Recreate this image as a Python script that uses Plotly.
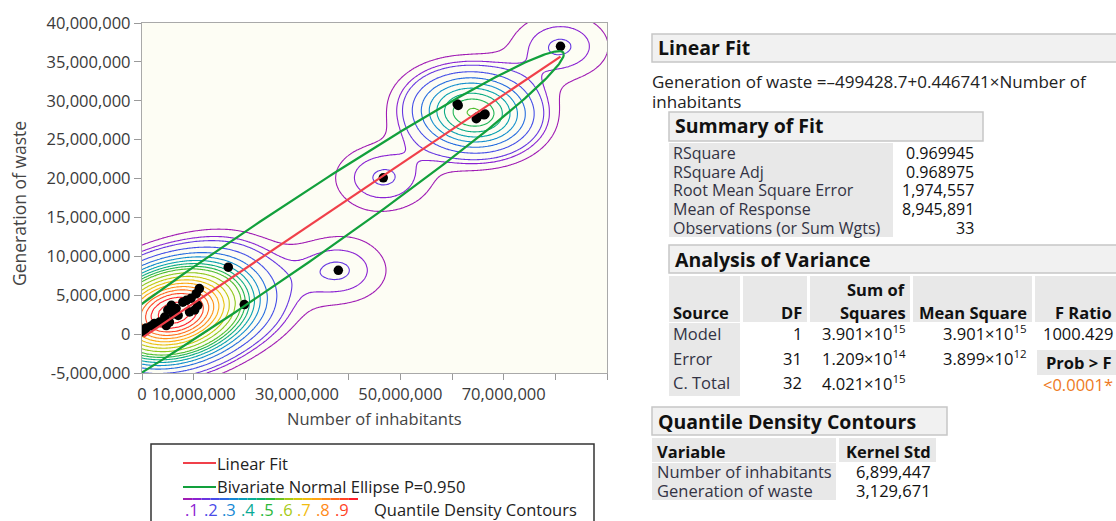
import numpy as np
import plotly.graph_objects as go

# ---------------- data ----------------
inhabitants = [81.0e6, 61.0e6, 64.7e6, 66.4e6, 46.7e6, 38.0e6, 16.7e6, 19.8e6, 61.2e6, 64.9e6, 66.2e6,
               11.1e6, 10.5e6, 9.5e6, 8.6e6, 7.9e6, 10.8e6, 10.2e6, 9.2e6, 7.0e6, 5.7e6,
               5.0e6, 6.0e6, 4.4e6, 5.3e6, 4.7e6, 3.4e6, 2.4e6, 1.8e6, 0.8e6, 0.3e6,
               0.5e6, 6.6e6]
waste = [37.0e6, 29.6e6, 27.7e6, 28.3e6, 20.1e6, 8.2e6, 8.6e6, 3.8e6, 29.4e6, 27.9e6, 28.2e6,
         5.85e6, 5.2e6, 4.6e6, 4.35e6, 4.1e6, 3.7e6, 3.1e6, 2.85e6, 2.4e6, 3.7e6,
         3.1e6, 2.6e6, 2.2e6, 1.55e6, 1.1e6, 1.55e6, 1.35e6, 1.05e6, 0.8e6, 0.3e6,
         0.5e6, 3.3e6]

y_tick_vals = [-5e6, 0, 5e6, 10e6, 15e6, 20e6, 25e6, 30e6, 35e6, 40e6]
y_tick_text = ["-5,000,000", "0", "5,000,000", "10,000,000", "15,000,000", "20,000,000",
               "25,000,000", "30,000,000", "35,000,000", "40,000,000"]
x_tick_vals = [0, 10e6, 20e6, 30e6, 40e6, 50e6, 60e6, 70e6, 80e6, 90e6]
x_tick_text = ["0", "10,000,000", "", "30,000,000", "", "50,000,000", "", "70,000,000", "", ""]

# report values
fit_intercept = -499428.7
fit_slope = 0.446741
rsquare = 0.969945
mean_response = 8945891
n_obs = 33
ss_model = 3.901e15
ss_total = 4.021e15
ellipse_p = 0.950
kernel_std = [6899447, 3129671]
quantile_levels = [0.05, 0.10, 0.15, 0.20, 0.25, 0.30, 0.35, 0.40, 0.45, 0.50,
                   0.55, 0.60, 0.65, 0.70, 0.75, 0.80, 0.85, 0.90, 0.95]

equation_text = ["Generation of waste =–499428.7+0.446741×Number of", "inhabitants"]
summary_labels = ["RSquare", "RSquare Adj", "Root Mean Square Error", "Mean of Response",
                  "Observations (or Sum Wgts)"]
summary_values = ["0.969945", "0.968975", "1,974,557", "8,945,891", "33"]
anova_sources = ["Model", "Error", "C. Total"]
anova_df = ["1", "31", "32"]
anova_ss = ["3.901×10<sup>15</sup>", "1.209×10<sup>14</sup>", "4.021×10<sup>15</sup>"]
anova_ms = ["3.901×10<sup>15</sup>", "3.899×10<sup>12</sup>", ""]
f_ratio = "1000.429"
prob_f = "&lt;0.0001*"
kernel_vars = ["Number of inhabitants", "Generation of waste"]
kernel_std_text = ["6,899,447", "3,129,671"]
legend_numbers = [".1", ".2", ".3", ".4", ".5", ".6", ".7", ".8", ".9"]

# ---------------- styles ----------------
FONT = "Open Sans"
FS = 16.5
# one colour per contour level .05 ... .95
level_colors = ["#a01cb4", "#8c22d2", "#6a34e0", "#4a4ae8", "#2c66e2", "#1688d4",
                "#0a9ebc", "#08aa96", "#12b06a", "#2cb83a", "#6cc224", "#a6ca16",
                "#d2c80c", "#f2bc10", "#ffa614", "#ff8a18", "#ff6a1e", "#ff4426", "#ff1e2a"]
legend_num_colors = [level_colors[i] for i in (1, 3, 5, 7, 9, 11, 13, 15, 17)]
colorscale = [[i / (len(level_colors) - 1), c] for i, c in enumerate(level_colors)]

X = np.array(inhabitants)
Y = np.array(waste)


def kde(gx, gy):
    kx = np.exp(-0.5 * ((gx[None, :] - X[:, None]) / kernel_std[0]) ** 2)
    ky = np.exp(-0.5 * ((gy[None, :] - Y[:, None]) / kernel_std[1]) ** 2)
    return ky.T @ kx


# quantile of density by probability mass ("points generated from the estimate")
bx = np.linspace(-45e6, 135e6, 361)
by = np.linspace(-25e6, 65e6, 361)
d_big = np.sort(kde(bx, by).ravel())
cum = np.cumsum(d_big)
cum /= cum[-1]
gx = np.linspace(-3e6, 93e6, 321)
gy = np.linspace(-8e6, 43e6, 281)
Q = np.interp(kde(gx, gy), d_big, cum)

fig = go.Figure()
fig.add_trace(go.Contour(
    x=gx, y=gy, z=np.round(Q, 4), zmin=0.05, zmax=0.95, zauto=False,
    autocontour=False,
    contours=dict(start=quantile_levels[0], end=quantile_levels[-1] + 1e-6,
                  size=0.05, coloring="lines"),
    colorscale=colorscale, line=dict(width=1.1, smoothing=1),
    showscale=False, hoverinfo="skip"))

fig.add_trace(go.Scatter(x=inhabitants, y=waste, mode="markers",
                         marker=dict(color="black", size=9.5), hoverinfo="skip"))

# bivariate normal ellipse from the reported statistics
mean_x = (mean_response - fit_intercept) / fit_slope
sx = np.sqrt(ss_model / fit_slope ** 2 / (n_obs - 1))
sy = np.sqrt(ss_total / (n_obs - 1))
r = np.sqrt(rsquare)
cov = np.array([[sx * sx, r * sx * sy], [r * sx * sy, sy * sy]])
Lc = np.linalg.cholesky(cov)
c = np.sqrt(-2 * np.log(1 - ellipse_p))
t = np.linspace(0, 2 * np.pi, 400)
pts = c * (Lc @ np.vstack([np.cos(t), np.sin(t)]))
fig.add_trace(go.Scatter(x=mean_x + pts[0], y=mean_response + pts[1], mode="lines",
                         line=dict(color="#12a03c", width=2.2), hoverinfo="skip"))

# linear fit
fx = np.array([min(inhabitants), max(inhabitants)])
fig.add_trace(go.Scatter(x=fx, y=fit_intercept + fit_slope * fx, mode="lines",
                         line=dict(color="#f0404a", width=2.2), hoverinfo="skip"))

# ---------------- layout helpers ----------------
L, R, T, B = 142, 607, 23, 373


def px(x):
    return (x - L) / (R - L)


def py(y):
    return (B - y) / (B - T)


ann = []
shp = []


def text(x, y, s, size=FS, color="#222", xanchor="left", bold=False, angle=0):
    ann.append(dict(x=px(x), y=py(y), xref="paper", yref="paper", showarrow=False,
                    text=("<b>%s</b>" % s) if bold else s, xanchor=xanchor,
                    yanchor="middle", textangle=angle,
                    font=dict(family=FONT, size=size, color=color)))


def rect(x0, y0, x1, y1, fill, line=None, lw=1):
    shp.append(dict(type="rect", xref="paper", yref="paper", x0=px(x0), x1=px(x1),
                    y0=py(y1), y1=py(y0), fillcolor=fill, layer="above",
                    line=dict(color=line if line else fill, width=lw if line else 0)))


def seg(x0, y0, x1, y1, color, w=2):
    shp.append(dict(type="line", xref="paper", yref="paper", x0=px(x0), x1=px(x1),
                    y0=py(y0), y1=py(y1), line=dict(color=color, width=w)))


# axis titles
text(19, 204, "Generation of waste", size=17.5, color="#444", xanchor="center", angle=-90)
text(374, 418, "Number of inhabitants", size=16.5, color="#444", xanchor="center")

HDR_FILL, HDR_LINE, CELL = "#f1f1f1", "#c6c6c6", "#e8e8e8"
HB = 19.5   # header bold size
CB = 16.5   # column header bold size
LAB = "#333344"
# Linear Fit
rect(652, 34, 1125, 62, HDR_FILL, HDR_LINE, 1.5)
text(656, 48, "Linear Fit", size=HB, color="#111", bold=True)
text(650, 81, equation_text[0], size=17, color="#222")
text(650, 101, equation_text[1], size=17, color="#222")
# Summary of Fit
rect(669, 112, 983, 141, HDR_FILL, HDR_LINE, 1.5)
text(673, 126, "Summary of Fit", size=HB, color="#111", bold=True)
rect(669, 143, 893, 237, CELL)
for i, (lab, val) in enumerate(zip(summary_labels, summary_values)):
    yy = 153 + i * 18.7
    text(671, yy, lab, size=16, color=LAB)
    text(976, yy, val, size=16, color="#111", xanchor="right")
# Analysis of Variance
rect(669, 245, 1125, 273, HDR_FILL, HDR_LINE, 1.5)
text(673, 259, "Analysis of Variance", size=HB, color="#111", bold=True)
for x0, x1 in [(669, 740), (743, 807), (810, 910), (913, 1032), (1035, 1120)]:
    rect(x0, 276, x1, 322, CELL)
rect(669, 323, 740, 396, CELL)
text(671, 312, "Source", size=CB, color="#111", bold=True)
text(804, 312, "DF", size=CB, color="#111", bold=True, xanchor="right")
text(908, 289, "Sum of", size=CB, color="#111", bold=True, xanchor="right")
text(908, 312, "Squares", size=CB, color="#111", bold=True, xanchor="right")
text(1029, 312, "Mean Square", size=CB, color="#111", bold=True, xanchor="right")
text(1114, 312, "F Ratio", size=CB, color="#111", bold=True, xanchor="right")
for i, yy in enumerate([333, 358, 383]):
    text(671, yy, anova_sources[i], size=FS, color=LAB)
    text(804, yy, anova_df[i], size=FS, color="#111", xanchor="right")
    text(908, yy, anova_ss[i], size=FS, color="#111", xanchor="right")
    if anova_ms[i]:
        text(1029, yy, anova_ms[i], size=FS, color="#111", xanchor="right")
text(1115, 333, f_ratio, size=FS, color="#111", xanchor="right")
rect(1037, 350, 1120, 375, CELL)
text(1114, 362, "Prob &gt; F", size=CB, color="#111", bold=True, xanchor="right")
text(1115, 384, prob_f, size=FS, color="#ee7a22", xanchor="right")
# Quantile Density Contours
rect(652, 407, 947, 435, HDR_FILL, HDR_LINE, 1.5)
text(656, 421, "Quantile Density Contours", size=HB, color="#111", bold=True)
rect(652, 438, 836, 462, CELL)
rect(839, 438, 936, 462, CELL)
text(655, 451, "Variable", size=CB, color="#111", bold=True)
text(933, 451, "Kernel Std", size=CB, color="#111", bold=True, xanchor="right")
rect(652, 463, 836, 500, CELL)
for i, yy in enumerate([471, 490]):
    text(655, yy, kernel_vars[i], size=FS, color=LAB)
    text(933, yy, kernel_std_text[i], size=FS, color="#111", xanchor="right")

# legend box
rect(151, 444, 594, 540, "rgba(0,0,0,0)", "#333", 1.5)
seg(183, 463, 216, 463, "#f0404a", 2.2)
text(215, 463, "Linear Fit", size=FS, color="#222")
seg(183, 487, 216, 487, "#12a03c", 2.2)
text(215, 487, "Bivariate Normal Ellipse P=0.950", size=FS, color="#222")
nseg = len(level_colors)
for k in range(nseg):
    x0 = 183 + k * (358 - 183) / nseg
    x1 = 183 + (k + 1) * (358 - 183) / nseg
    seg(x0, 499, x1, 499, level_colors[k], 2)
for k, s in enumerate(legend_numbers):
    text(183 + k * 18.7, 509, s, size=16.5, color=legend_num_colors[k])
text(372, 509, "Quantile Density Contours", size=FS, color="#222")

axis_common = dict(showgrid=False, zeroline=False, showline=True, linecolor="#a9a9a9",
                   linewidth=1.3, mirror=True, ticks="outside", tickcolor="#9a9a9a",
                   tickfont=dict(family=FONT, size=16.5, color="#3a3a3a"))
fig.update_layout(
    width=1116, height=521,
    margin=dict(l=L, r=1116 - R, t=T, b=521 - B, pad=0),
    paper_bgcolor="white", plot_bgcolor="#fdfdf4",
    showlegend=False,
    xaxis=dict(range=[0, 90e6], tickvals=x_tick_vals, ticktext=x_tick_text,
               ticklen=6, **axis_common),
    yaxis=dict(range=[-5e6, 40e6], tickvals=y_tick_vals, ticktext=y_tick_text,
               ticklen=7, **axis_common),
    annotations=ann, shapes=shp,
)
fig.write_html("out.html", config={"displayModeBar": False},
               post_script="document.body.style.margin='0px';")
